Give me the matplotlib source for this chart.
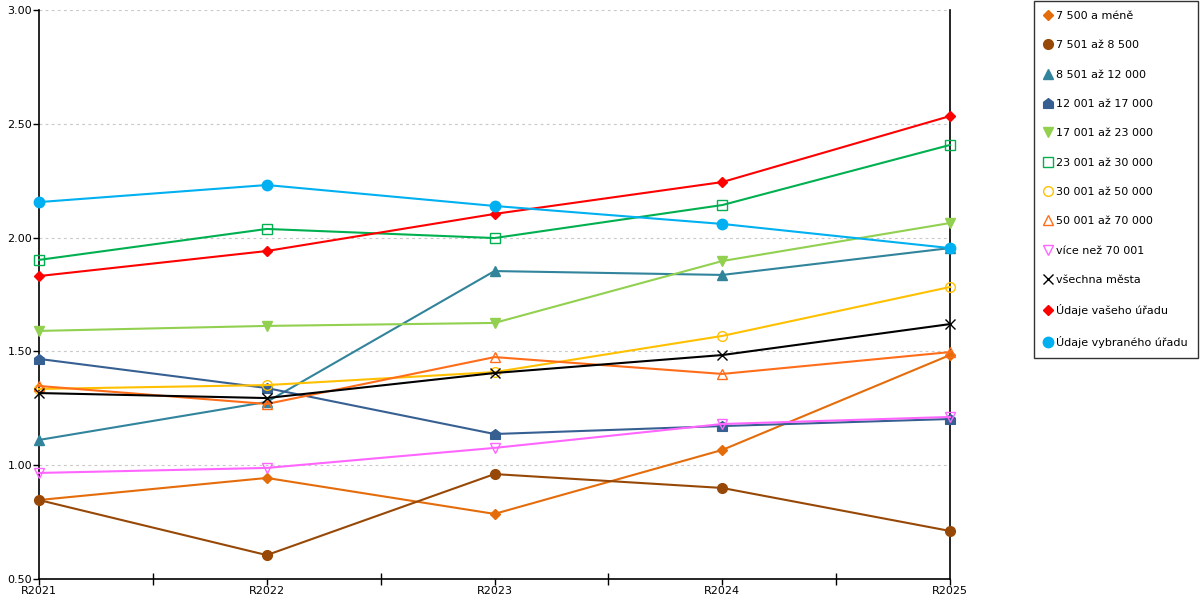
import numpy as np
import matplotlib
matplotlib.use('Agg')
import matplotlib.pyplot as plt
from matplotlib.path import Path
from matplotlib.lines import Line2D
from matplotlib.ticker import FormatStrFormatter, MultipleLocator

plt.rcParams['font.family'] = ['DejaVu Sans']

years = ['R2021', 'R2022', 'R2023', 'R2024', 'R2025']

labels = ['7 500 a méně', '7 501 až 8 500', '8 501 až 12 000', '12 001 až 17 000',
          '17 001 až 23 000', '23 001 až 30 000', '30 001 až 50 000', '50 001 až 70 000',
          'více než 70 001', 'všechna města', 'Údaje vašeho úřadu', 'Údaje vybraného úřadu']

s_7500 = [0.847, 0.944, 0.786, 1.067, 1.484]
s_8500 = [0.847, 0.605, 0.961, 0.900, 0.711]
s_12000 = [1.111, 1.278, 1.853, 1.836, 1.954]
s_17000 = [1.467, 1.339, 1.137, 1.172, 1.203]
s_23000 = [1.590, 1.612, 1.625, 1.897, 2.064]
s_30000 = [1.902, 2.038, 1.998, 2.143, 2.407]
s_50000 = [1.335, 1.352, 1.409, 1.568, 1.783]
s_70000 = [1.348, 1.269, 1.475, 1.401, 1.497]
s_nad70000 = [0.966, 0.988, 1.076, 1.181, 1.212]
s_vse = [1.317, 1.295, 1.405, 1.484, 1.620]
s_vas = [1.831, 1.941, 2.104, 2.244, 2.534]
s_vybrany = [2.156, 2.231, 2.139, 2.060, 1.954]

series = [s_7500, s_8500, s_12000, s_17000, s_23000, s_30000,
          s_50000, s_70000, s_nad70000, s_vse, s_vas, s_vybrany]

colors = ['#E46C0A', '#974806', '#31849B', '#376092', '#92D050', '#00B050',
          '#FFC000', '#FF6D1A', '#FF66FF', '#000000', '#FF0000', '#00B0F0']

# house-shaped marker (square with a roof)
house = Path([(-1, -1), (1, -1), (1, 0.25), (0, 1), (-1, 0.25), (-1, -1)],
             [Path.MOVETO, Path.LINETO, Path.LINETO, Path.LINETO, Path.LINETO, Path.CLOSEPOLY])

# marker, size, filled
styles = [('D', 5.5, True), ('o', 7, True), ('^', 7, True), (house, 7, True),
          ('v', 7, True), ('s', 7.5, False), ('o', 7, False), ('^', 7.5, False),
          ('v', 7.5, False), ('x', 7, False), ('D', 5.5, True), ('o', 7.5, True)]

fig = plt.figure(figsize=(12, 6), dpi=100)
ax = fig.add_axes([39/1200, 21/600, 911/1200, 569/600])

x = np.arange(len(years))
handles = []
for i, (vals, c, lab) in enumerate(zip(series, colors, labels)):
    m, ms, filled = styles[i]
    fc = c if filled else 'none'
    ax.plot(x, vals, color=c, lw=1.5, marker=m, markersize=ms,
            markerfacecolor=fc, markeredgecolor=c, markeredgewidth=1.0,
            zorder=3 + i, clip_on=False)
    handles.append(Line2D([], [], linestyle='none', marker=m, markersize=ms,
                          markerfacecolor=fc, markeredgecolor=c, markeredgewidth=1.0, label=lab))

ax.set_xlim(0, len(years) - 1)
ax.set_ylim(0.5, 3.0)
ax.set_xticks(x)
ax.set_xticklabels(years)
ax.set_xticks(x[:-1] + 0.5, minor=True)
ax.yaxis.set_major_locator(MultipleLocator(0.5))
ax.yaxis.set_major_formatter(FormatStrFormatter('%.2f'))
ax.tick_params(axis='both', labelsize=8, length=4, width=1, pad=1, colors='black')
ax.tick_params(axis='x', which='minor', direction='inout', length=8, width=1)
ax.yaxis.grid(True, linestyle=(0, (2.5, 3)), color='#C8C8C8', lw=0.8)
ax.set_axisbelow(True)

ax.spines['top'].set_visible(False)
for s in ['left', 'bottom', 'right']:
    ax.spines[s].set_linewidth(1.2)
    ax.spines[s].set_color('black')

leg = fig.legend(handles=handles, loc='upper left', bbox_to_anchor=(1034/1200, 599/600),
                 fontsize=8, frameon=True, fancybox=False, edgecolor='black',
                 labelspacing=1.74, handlelength=0.8, handletextpad=0.3,
                 borderpad=0.9, borderaxespad=0)
leg.get_frame().set_linewidth(1.0)

fig.savefig('out.png', dpi=100)
